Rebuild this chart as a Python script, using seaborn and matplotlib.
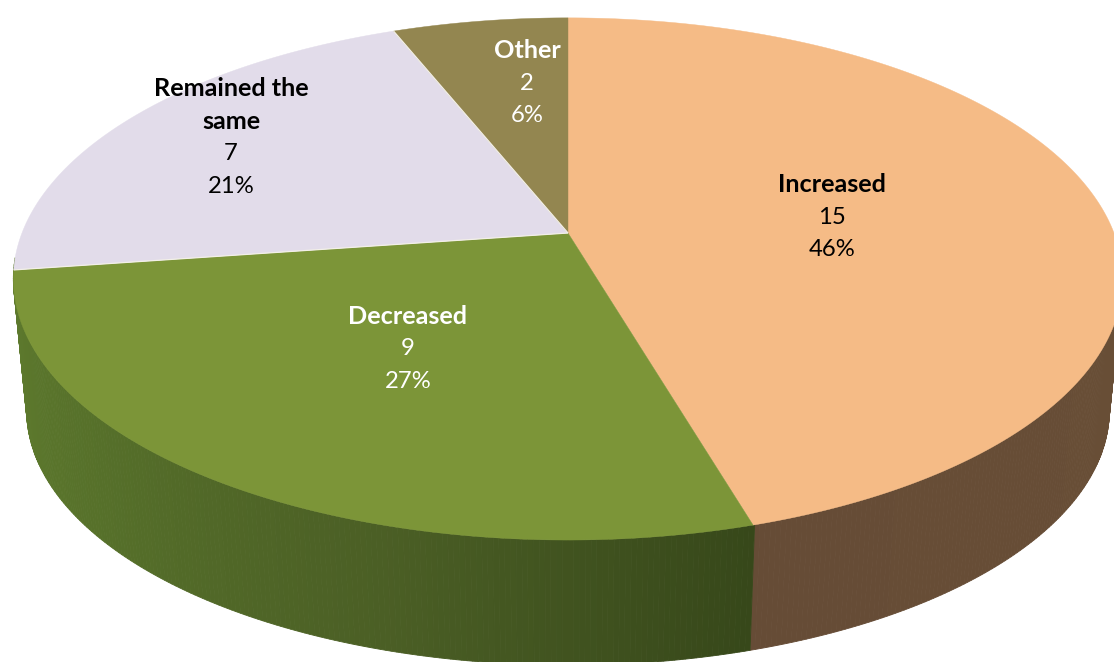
import numpy as np
import matplotlib
matplotlib.use("Agg")
import matplotlib.pyplot as plt
import seaborn as sns

categories = ["Increased", "Decreased", "Remained the same", "Other"]
counts = [15, 9, 7, 2]
percents = ["46%", "27%", "21%", "6%"]
top_colors = ["#F5BB86", "#7C9538", "#E2DCEA", "#938650"]
label_colors = ["black", "white", "black", "white"]

sns.set_theme(style="white")
plt.rcParams["font.family"] = ["Lato", "DejaVu Sans"]

W, H = 1114, 662
fig = plt.figure(figsize=(W / 100, H / 100), dpi=100)
ax = fig.add_axes([0, 0, 1, 1])
ax.set_xlim(0, W)
ax.set_ylim(H, 0)
ax.axis("off")

CX, CY, A, B, K = 568.0, 233.0, 546.0, 253.0, 0.176
SCALE, DROP = 0.976, 132.5


def rim(theta, scale=1.0, drop=0.0):
    """Perspective projection of a point on the unit circle (clockwise from top)."""
    u, v = np.sin(theta), np.cos(theta)
    w = 1 + K * v
    return CX + scale * A * u / w, CY + drop - scale * B * v / w


vals = np.array(counts, dtype=float)
edges = np.concatenate([[0], np.cumsum(vals)]) / vals.sum() * 2 * np.pi

# Side wall, painted back to front (only the part facing the viewer)
green_ramp = sns.blend_palette(["#37481A", "#4B5F25", "#56702A", "#5F7C2E"], 200)
brown_ramp = sns.blend_palette(["#6E5340", "#694F36", "#664C36"], 200)
tt = np.linspace(0, 2 * np.pi, 721)
mids = (tt[:-1] + tt[1:]) / 2
order = np.argsort(-np.cos(mids))
for i in order:
    t0, t1, tm = tt[i], tt[i + 1], mids[i]
    if np.cos(tm) > -0.1:
        continue
    if tm < edges[1]:
        c = brown_ramp[int(199 * tm / edges[1])]
    elif tm < edges[2]:
        c = green_ramp[int(199 * (tm - edges[1]) / (edges[2] - edges[1]))]
    else:
        c = green_ramp[199]
    x0, y0 = rim(t0)
    x1, y1 = rim(t1)
    x2, y2 = rim(t1, SCALE, DROP)
    x3, y3 = rim(t0, SCALE, DROP)
    ax.fill([x0, x1, x2, x3], [y0, y1, y2, y3], color=c, lw=0.6, zorder=1)

# Top faces
for k in range(len(vals)):
    th = np.linspace(edges[k], edges[k + 1], 200)
    x, y = rim(th)
    ax.fill(np.r_[CX, x], np.r_[CY, y], color=top_colors[k], lw=0.3, zorder=2)

# Pale seams on either side of the lavender slice
for e in (edges[2], edges[3]):
    x, y = rim(e)
    ax.plot([CX, x], [CY, y], color="#F3F0E8", lw=0.9, zorder=3, solid_capstyle="butt")

# Labels
anchors = [(832, 184), (408, 316), (231, 89), (527, 51)]
steps = [33, 32.5, 32.5, 32]
for k, (x, y0) in enumerate(anchors):
    name = ["Remained the", "same"] if categories[k] == "Remained the same" else [categories[k]]
    lines = [(n, "bold", 18.2) for n in name] + [(str(counts[k]), "normal", 17.2),
                                                  (percents[k], "normal", 17.2)]
    for j, (s, wt, fs) in enumerate(lines):
        ax.text(x, y0 + j * steps[k], s, ha="center", va="center", fontsize=fs,
                fontweight=wt, color=label_colors[k], zorder=5)

fig.savefig("out.png", dpi=100, facecolor="white")
